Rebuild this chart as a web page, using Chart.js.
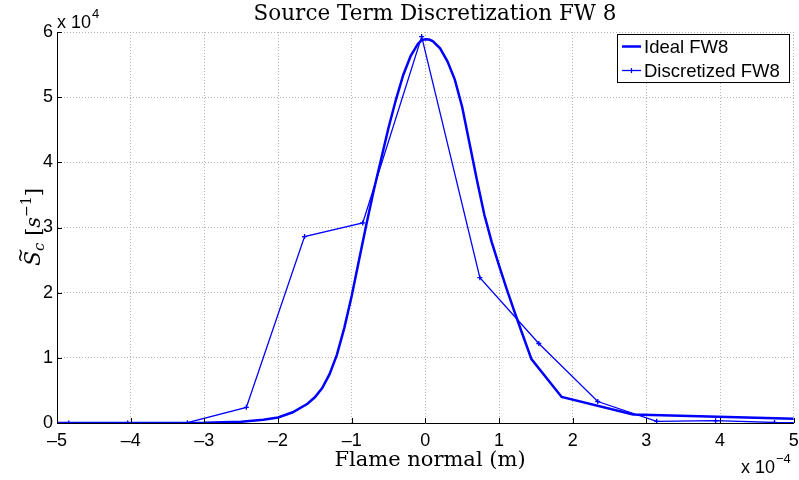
<!DOCTYPE html>
<html>
<head>
<meta charset="utf-8">
<script src="https://cdn.jsdelivr.net/npm/chart.js@4.4.1/dist/chart.umd.min.js"></script>
<style>
  html, body { margin: 0; padding: 0; background: #fff; }
</style>
</head>
<body>
<canvas id="chart" width="799" height="480"></canvas>
<script>
// tick labels (axes are shown scaled: x in 1e-4 m, y in 1e4 1/s)
const xTickVals = [-5, -4, -3, -2, -1, 0, 1, 2, 3, 4, 5];
const yTickVals = [0, 1, 2, 3, 4, 5, 6];

// Ideal FW8 source term (x in m, y in 1/s)
const idealX = [-5.0e-4, -4.0e-4, -3.0e-4, -2.5e-4, -2.2e-4, -2.0e-4, -1.8e-4, -1.6e-4, -1.5e-4, -1.4e-4,
  -1.3e-4, -1.2e-4, -1.1e-4, -1.0e-4, -0.9e-4, -0.8e-4, -0.7e-4, -0.6e-4, -0.5e-4, -0.4e-4,
  -0.3e-4, -0.2e-4, -0.1e-4, -0.05e-4, 0, 0.05e-4, 0.1e-4, 0.2e-4, 0.3e-4, 0.4e-4, 0.5e-4, 0.6e-4,
  0.7e-4, 0.8e-4, 0.9e-4, 1.0e-4, 1.1e-4, 1.2e-4, 1.3e-4, 1.44e-4, 1.85e-4, 2.82e-4, 5.0e-4];
const idealY = [0, 10, 40, 200, 500, 850, 1650, 2950, 3950, 5350,
  7500, 10500, 14600, 19500, 25000, 30500, 35700, 40500, 45300, 49600,
  53400, 56300, 58200, 58750, 58900, 58850, 58600, 57500, 55500, 52700, 48500, 42900,
  37300, 32000, 27800, 24200, 20700, 17400, 14200, 9800, 4000, 1300, 650];

// Discretized FW8
const discX = [-4.84e-4, -4.04e-4, -3.23e-4, -2.43e-4, -1.64e-4, -0.85e-4, -0.05e-4,
  0.74e-4, 1.54e-4, 2.34e-4, 3.14e-4, 3.94e-4, 4.74e-4, 5.54e-4];
const discY = [0, 10, 50, 2400, 28600, 30700, 59300, 22300, 12200, 3300, 250, 350, 80, 20];

const seriesNames = ['Ideal FW8', 'Discretized FW8'];
const blue = '#0000ff';
const sans = '"Liberation Sans", Arial, sans-serif';
const serif = '"DejaVu Serif", serif';

function toPoints(xs, ys) {
  return xs.map((x, i) => ({ x: x, y: ys[i] }));
}

function minusFmt(v) {
  return v < 0 ? '\u2013' + Math.abs(v) : String(v);
}

// text with a superscript, drawn left to right from x
function drawPow(ctx, x, y, base, exp, size) {
  ctx.font = size + 'px ' + sans;
  ctx.fillText(base, x, y);
  const w = ctx.measureText(base).width;
  ctx.font = Math.round(size * 0.72) + 'px ' + sans;
  ctx.fillText(exp, x + w + 1, y - size * 0.55);
}

const overlay = {
  id: 'overlay',
  afterDraw(chart) {
    const ctx = chart.ctx;
    const area = chart.chartArea;
    const xs = chart.scales.x, ys = chart.scales.y;
    ctx.save();

    // inward tick marks
    ctx.strokeStyle = '#000';
    ctx.lineWidth = 1;
    ctx.beginPath();
    xTickVals.forEach(v => {
      const px = Math.round(xs.getPixelForValue(v * 1e-4)) + 0.5;
      ctx.moveTo(px, area.bottom);
      ctx.lineTo(px, area.bottom - 5);
    });
    yTickVals.forEach(v => {
      const py = Math.round(ys.getPixelForValue(v * 1e4)) + 0.5;
      ctx.moveTo(area.left, py);
      ctx.lineTo(area.left + 5, py);
    });
    ctx.stroke();

    ctx.fillStyle = '#000';
    ctx.textBaseline = 'alphabetic';

    // title
    ctx.font = '21.5px ' + serif;
    ctx.textAlign = 'center';
    ctx.fillText('Source Term Discretization FW 8', 435, 20);

    // x label
    ctx.font = '21px ' + serif;
    ctx.fillText('Flame normal (m)', 430, 466);

    // exponent notes
    ctx.textAlign = 'left';
    drawPow(ctx, 57, 28, 'x 10', '4', 18);
    drawPow(ctx, 741, 473, 'x 10', '\u22124', 18);

    // y label: S~_c [s^-1], rotated
    ctx.save();
    ctx.translate(40, 227);
    ctx.rotate(-Math.PI / 2);
    const parts = [
      { t: 'S', f: 'italic 22px ' + serif, dy: 0 },
      { t: 'c', f: 'italic 15px ' + serif, dy: 4 },
      { t: ' [', f: '21px ' + serif, dy: 0 },
      { t: 's', f: 'italic 21px ' + serif, dy: 0 },
      { t: '\u22121', f: '14px ' + serif, dy: -9 },
      { t: ']', f: '21px ' + serif, dy: 0 }
    ];
    let total = 0;
    parts.forEach(p => { ctx.font = p.f; p.w = ctx.measureText(p.t).width; total += p.w; });
    let cx = -total / 2;
    parts.forEach((p, i) => {
      ctx.font = p.f;
      ctx.fillText(p.t, cx, p.dy);
      if (i === 0) {
        ctx.font = '18px ' + serif;
        ctx.fillText('~', cx + 3, -14);
      }
      cx += p.w;
    });
    ctx.restore();

    // legend
    const lx = 617.5, ly = 34.5, lw = 172, lh = 48;
    ctx.fillStyle = '#fff';
    ctx.fillRect(lx, ly, lw, lh);
    ctx.strokeStyle = '#000';
    ctx.lineWidth = 1;
    ctx.strokeRect(lx, ly, lw, lh);
    const rows = [46.5, 70.5];
    chart.data.datasets.forEach((ds, i) => {
      const yy = rows[i];
      ctx.strokeStyle = ds.borderColor;
      ctx.lineWidth = ds.borderWidth;
      ctx.beginPath();
      ctx.moveTo(622, yy);
      ctx.lineTo(641, yy);
      ctx.stroke();
      if (i === 1) {
        ctx.lineWidth = 1.2;
        ctx.beginPath();
        ctx.moveTo(631.5, yy - 2.5);
        ctx.lineTo(631.5, yy + 2.5);
        ctx.stroke();
      }
      ctx.fillStyle = '#000';
      ctx.font = '18.5px ' + sans;
      ctx.textBaseline = 'middle';
      ctx.fillText(ds.label, 644, yy + 1);
    });
    ctx.restore();
  }
};

new Chart(document.getElementById('chart').getContext('2d'), {
  type: 'line',
  data: {
    datasets: [
      {
        label: seriesNames[0],
        data: toPoints(idealX, idealY),
        borderColor: blue,
        borderWidth: 2.5,
        pointRadius: 0,
        tension: 0
      },
      {
        label: seriesNames[1],
        data: toPoints(discX, discY),
        borderColor: blue,
        borderWidth: 1.3,
        pointStyle: 'cross',
        pointRadius: 2.5,
        pointBorderWidth: 1.3,
        pointBorderColor: blue,
        tension: 0
      }
    ]
  },
  options: {
    responsive: false,
    animation: false,
    devicePixelRatio: 1,
    layout: { padding: { left: 0, right: 5, top: 32, bottom: 0 } },
    plugins: {
      legend: { display: false },
      title: { display: false },
      tooltip: { enabled: false }
    },
    scales: {
      x: {
        type: 'linear',
        min: -5e-4,
        max: 5e-4,
        afterBuildTicks: s => { s.ticks = xTickVals.map(v => ({ value: v * 1e-4 })); },
        afterFit: s => { s.height = 57; s.paddingLeft = 0; s.paddingRight = 0; },
        ticks: {
          callback: v => minusFmt(Math.round(v * 1e4)),
          font: { family: sans, size: 18 },
          color: '#000',
          padding: 7,
          maxRotation: 0,
          autoSkip: false
        },
        grid: { color: '#b4b4b4', drawTicks: false, lineWidth: 1 },
        border: { display: true, color: '#000', width: 1, dash: [1, 2] }
      },
      y: {
        type: 'linear',
        min: 0,
        max: 6e4,
        afterBuildTicks: s => { s.ticks = yTickVals.map(v => ({ value: v * 1e4 })); },
        afterFit: s => { s.width = 57; s.paddingTop = 0; s.paddingBottom = 0; },
        ticks: {
          callback: v => String(Math.round(v / 1e4)),
          font: { family: sans, size: 18 },
          color: '#000',
          padding: 4,
          autoSkip: false
        },
        grid: { color: '#b4b4b4', drawTicks: false, lineWidth: 1 },
        border: { display: true, color: '#000', width: 1, dash: [1, 2] }
      }
    }
  },
  plugins: [overlay]
});
</script>
</body>
</html>
